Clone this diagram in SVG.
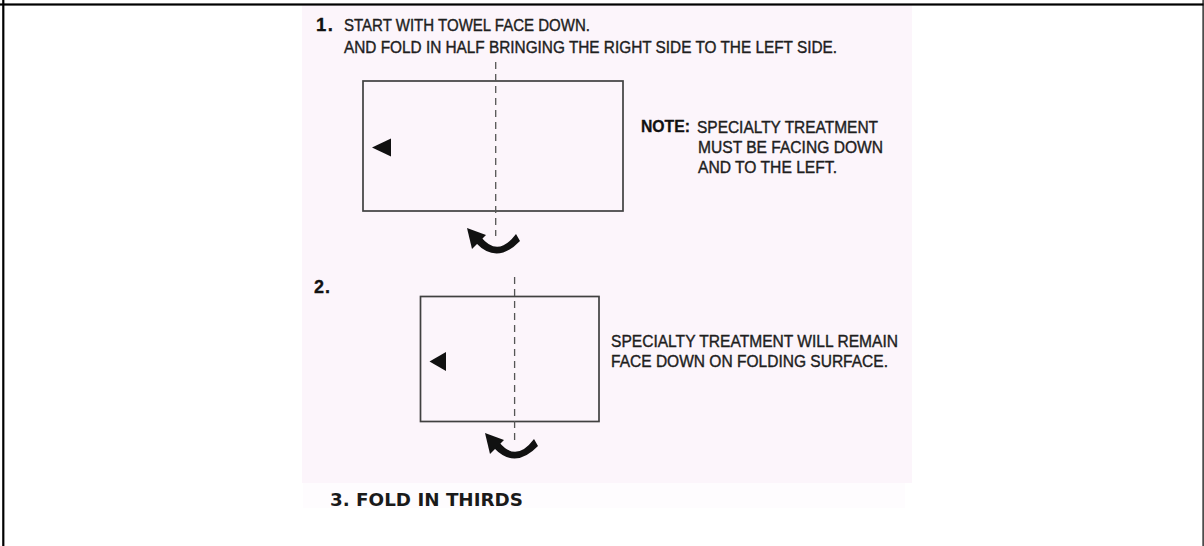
<svg xmlns="http://www.w3.org/2000/svg" width="1204" height="546" viewBox="0 0 1204 546">
  <style>
    .t { font-family: "Liberation Sans", Arial, sans-serif; font-size: 16.5px; fill: #1e1e1e; stroke: #1e1e1e; stroke-width: 0.4; }
    .b { font-family: "Liberation Sans", Arial, sans-serif; font-weight: bold; fill: #111; stroke: #111; stroke-width: 0.3; }
    .towel { fill: none; stroke: #404040; stroke-width: 1.7; }
    .fold { fill: none; stroke: #555; stroke-width: 1.3; stroke-dasharray: 7 5; }
    .mark { fill: #111; }
  </style>
  <defs>
    <g id="turn">
      <path d="M 476 243 Q 497 265 520 241 L 516 234 Q 498 258 481 237 Z" fill="#111"/>
      <polygon points="467,228 486,235 472,249" fill="#111"/>
    </g>
  </defs>

  <g id="frame">
    <rect x="0" y="0" width="1204" height="546" fill="#ffffff"/>
    <rect x="302" y="5" width="610" height="478" fill="#fcf5fb"/>
    <rect x="303" y="483" width="602" height="25" fill="#fefcfe"/>
    <rect x="0" y="3.4" width="1203.5" height="2.2" fill="#000"/>
    <rect x="2.2" y="0" width="2.2" height="546" fill="#000"/>
    <rect x="1202.5" y="0" width="1.2" height="546" fill="#000"/>
  </g>

  <g id="step1-title">
    <text class="b" x="316" y="31" font-size="18.5" letter-spacing="1.5">1.</text>
    <text class="t" x="344" y="31" textLength="246" lengthAdjust="spacingAndGlyphs">START WITH TOWEL FACE DOWN.</text>
    <text class="t" x="344" y="53" textLength="493" lengthAdjust="spacingAndGlyphs">AND FOLD IN HALF BRINGING THE RIGHT SIDE TO THE LEFT SIDE.</text>
  </g>

  <g id="towel1">
    <rect class="towel" x="363" y="81" width="260" height="130"/>
    <polygon class="mark" points="372,147.5 391,138.5 391,156.5"/>
  </g>

  <g id="note">
    <text class="b" x="641" y="132" font-size="16" textLength="49" lengthAdjust="spacingAndGlyphs">NOTE:</text>
    <text class="t" x="697" y="132.5" textLength="181" lengthAdjust="spacingAndGlyphs">SPECIALTY TREATMENT</text>
    <text class="t" x="698" y="153" textLength="185" lengthAdjust="spacingAndGlyphs">MUST BE FACING DOWN</text>
    <text class="t" x="698" y="173" textLength="139" lengthAdjust="spacingAndGlyphs">AND TO THE LEFT.</text>
  </g>

  <g id="step2-label">
    <text class="b" x="314" y="293" font-size="18" letter-spacing="1">2.</text>
  </g>

  <g id="towel2">
    <rect class="towel" x="420.5" y="296.5" width="178.5" height="125"/>
    <polygon class="mark" points="429.5,361.5 446,352 446,371"/>
  </g>

  <g id="step2-text">
    <text class="t" x="611" y="346.5" textLength="287" lengthAdjust="spacingAndGlyphs">SPECIALTY TREATMENT WILL REMAIN</text>
    <text class="t" x="611" y="366.5" textLength="277" lengthAdjust="spacingAndGlyphs">FACE DOWN ON FOLDING SURFACE.</text>
  </g>

  <g id="step3">
    <text x="330" y="506" font-family="'DejaVu Sans', Verdana, sans-serif" font-weight="bold" font-size="18" fill="#1a1a1a" textLength="193" lengthAdjust="spacingAndGlyphs">3. FOLD IN THIRDS</text>
  </g>

  <g id="connectors">
    <line class="fold" x1="495.7" y1="62" x2="495.7" y2="236"/>
    <use href="#turn"/>
    <line class="fold" x1="514.6" y1="277" x2="514.6" y2="441"/>
    <use href="#turn" transform="translate(18,205)"/>
  </g>
</svg>
